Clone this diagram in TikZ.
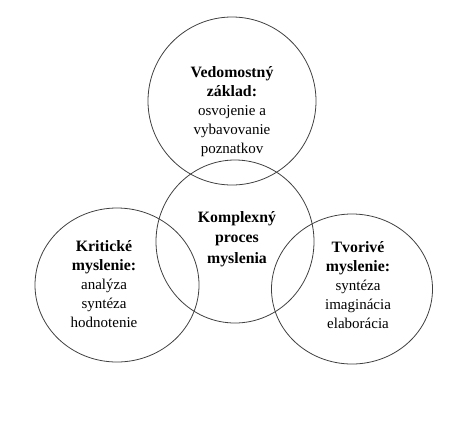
\documentclass[tikz,border=0pt]{standalone}
\usepackage{fontspec}
\setmainfont{Liberation Serif}
\usetikzlibrary{shapes.geometric}
\newcommand{\hd}[1]{{\fontsize{15.8}{19}\selectfont\bfseries #1}}
\begin{document}
\begin{tikzpicture}[x=1pt,y=-1pt,
  ring/.style={draw=black!75,line width=0.8pt,ellipse,inner sep=0pt},
  label/.style={align=center,inner sep=0pt,font=\fontsize{15}{19}\selectfont},
  labelc/.style={align=center,inner sep=0pt,font=\fontsize{15}{20.5}\selectfont}]
\useasboundingbox (0,0) rectangle (476,426);
\node[ring,minimum width=168pt,minimum height=168pt] (top) at (232,101) {};
\node[ring,minimum width=158pt,minimum height=163pt] (mid) at (235,241.5) {};
\node[ring,minimum width=164pt,minimum height=154pt] (left) at (117,285) {};
\node[ring,minimum width=161pt,minimum height=150pt] (right) at (352,289) {};
\node[label] (ttop) at (232,112) {\hd{Vedomostný}\\\hd{základ:}\\osvojenie a\\vybavovanie\\poznatkov};
\node[labelc] (tmid) at (237,239) {\hd{Komplexný}\\\hd{proces}\\\hd{myslenia}};
\node[label] (tleft) at (104,284) {\hd{Kritické}\\\hd{myslenie:}\\analýza\\syntéza\\hodnotenie};
\node[label] (tright) at (358,285) {\hd{Tvorivé}\\\hd{myslenie:}\\syntéza\\imaginácia\\elaborácia};
\end{tikzpicture}
\end{document}
